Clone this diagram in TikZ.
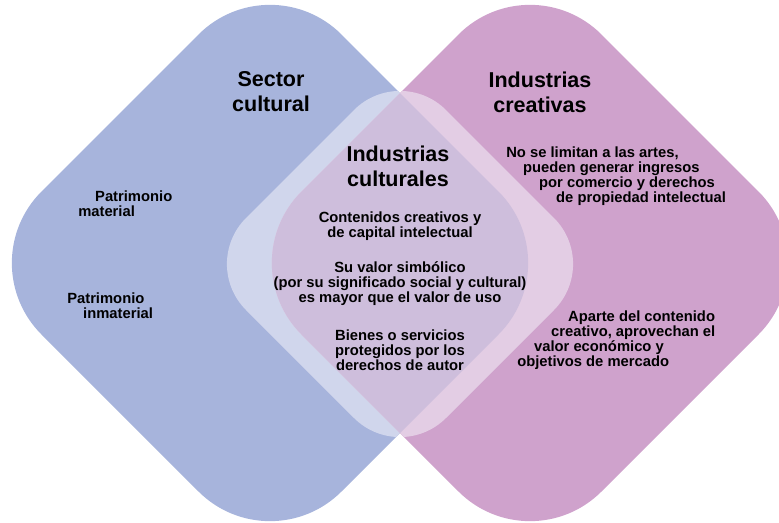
\documentclass[tikz,border=0pt]{standalone}
\usepackage{fontspec}
\setmainfont{Liberation Sans}
\usepackage{tikz}
\usetikzlibrary{positioning}
\usepackage{xcolor}

\definecolor{sectorblue}{HTML}{A7B4DC}
\definecolor{creativepink}{HTML}{CFA2CC}
\definecolor{bandblue}{HTML}{D0D6EC}
\definecolor{bandpink}{HTML}{E3CDE4}
\definecolor{overlap}{HTML}{CEBEDC}

% rounded diamond: centre x, centre y, half diagonal
\newcommand{\rdiamond}[3]{(#1-#3/2,#2-#3/2) -- (#1,#2-#3) -- (#1+#3,#2) -- (#1,#2+#3) -- (#1-#3,#2) -- cycle}

\begin{document}
\begin{tikzpicture}[x=0.025cm,y=-0.025cm,
	big/.style={rounded corners=2.525cm},
	title/.style={align=center,font=\bfseries\fontsize{15.3}{17.7}\selectfont}]
	\useasboundingbox (0,0) rectangle (779,522);
	\clip (0,0) rectangle (779,522);
	% the two sectors
	\fill[sectorblue,big] \rdiamond{270}{263}{300};
	\fill[creativepink,big] \rdiamond{530}{263}{300};
	% the light band in the middle
	\begin{scope}
		\clip[rounded corners=1.625cm] \rdiamond{400}{264}{200};
		\fill[bandblue,big] \rdiamond{270}{263}{300};
		\fill[bandpink,big] \rdiamond{530}{263}{300};
		\clip[big] \rdiamond{270}{263}{300};
		\fill[overlap,big] \rdiamond{530}{263}{300};
	\end{scope}
	\begin{scope}[every node/.style={inner sep=0pt,font=\bfseries\fontsize{10.5}{10.7}\selectfont}]
		\node[title] (sector) at (271,92) {Sector\\cultural};
		\node[title] (creativas) at (540,92) {Industrias\\creativas};
		\node[title] (culturales) at (398,166) {Industrias\\culturales};
		\node[align=center] (contenidos) at (400,226) {Contenidos creativos y\\de capital intelectual};
		\node[align=center] (simbolico) at (400,284) {Su valor simbólico\\(por su significado social y cultural)\\es mayor que el valor de uso};
		\node[align=center] (bienes) at (400,350) {Bienes o servicios\\protegidos por los\\derechos de autor};
		\node[align=left,anchor=west] (material) at (78,204) {\hspace*{12pt}Patrimonio\\material};
		\node[align=left,anchor=west] (inmaterial) at (67,306) {Patrimonio\\\hspace*{11.3pt}inmaterial};
		\node[align=left,anchor=west] (limitan) at (506,176) {No se limitan a las artes,\\\hspace*{12pt}pueden generar ingresos\\\hspace*{23.4pt}por comercio y derechos\\\hspace*{35.5pt}de propiedad intelectual};
		\node[align=left,anchor=west] (aparte) at (517,340) {\hspace*{36.2pt}Aparte del contenido\\\hspace*{24.1pt}creativo, aprovechan el\\\hspace*{12pt}valor económico y\\objetivos de mercado};
	\end{scope}
\end{tikzpicture}
\end{document}
